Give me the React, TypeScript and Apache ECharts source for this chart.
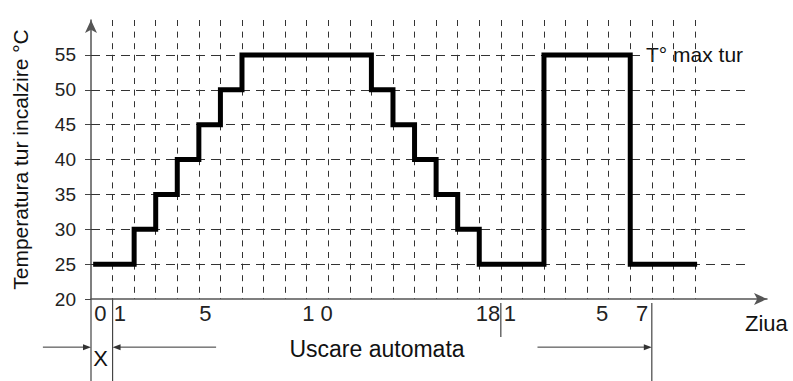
import React, { useEffect, useRef } from "react";
import * as echarts from "echarts";

// ---- data ----
const yTicks = [20, 25, 30, 35, 40, 45, 50, 55];
// step breakpoints (x in grid columns / days) and the temperature held from that point on
const stepDays = [0.1, 2, 3, 4, 5, 6, 7, 13, 14, 15, 16, 17, 18, 21, 25, 28.1];
const stepTemps = [25, 30, 35, 40, 45, 50, 55, 50, 45, 40, 35, 30, 25, 55, 25, 25];
// dashed grid
const gridCols = [1, 2, 3, 4, 5, 6, 7, 8, 9, 10, 11, 12, 13, 14, 15, 16, 17, 18, 19, 20, 21, 22, 23, 24, 25, 26, 27, 28];
const gridRows = [25, 30, 35, 40, 45, 50, 55];
const gridRowEnds = [30.4, 30.4, 30.4, 30.4, 30.4, 30.4, 25.6];
// day labels under the axis
const dayLabels = ["0", "1", "5", "1 0", "18", "1", "5", "7"];
const dayLabelPos = [0.44, 1.34, 5.3, 10.5, 18.4, 19.42, 23.7, 25.55];

const FONT = "'Liberation Sans', Arial, sans-serif";

export default function App() {
  const ref = useRef<HTMLDivElement>(null);
  useEffect(() => {
    if (!ref.current) return;
    const chart = echarts.init(ref.current, undefined, { renderer: "svg" });
    const option: any = {
      animation: false,
      backgroundColor: "#fff",
      grid: { left: 91, right: 26, top: 20, bottom: 82, containLabel: false },
      xAxis: {
        type: "value",
        min: 0,
        max: 31.34,
        axisLine: {
          show: true,
          onZero: false,
          symbol: ["none", "arrow"],
          symbolSize: [9, 13],
          lineStyle: { color: "#555", width: 1.5 },
        },
        axisTick: { show: false },
        axisLabel: { show: false },
        splitLine: { show: false },
      },
      yAxis: {
        type: "value",
        min: 20,
        max: 60,
        interval: 5,
        axisLine: {
          show: true,
          onZero: false,
          symbol: ["none", "arrow"],
          symbolSize: [9, 13],
          lineStyle: { color: "#555", width: 1.5 },
        },
        axisTick: { show: true, length: 6, customValues: yTicks, lineStyle: { color: "#444" } },
        axisLabel: {
          customValues: yTicks,
          fontSize: 19,
          color: "#222",
          margin: 15,
          fontFamily: FONT,
        },
        splitLine: { show: false },
        name: "Temperatura tur incalzire °C",
        nameLocation: "middle",
        nameRotate: 90,
        nameGap: 60,
        nameTextStyle: { fontSize: 21, color: "#111", fontFamily: FONT },
      },
      series: [
        {
          type: "lines",
          coordinateSystem: "cartesian2d",
          silent: true,
          z: 1,
          lineStyle: { color: "#333", width: 1, type: [6, 5.6], opacity: 1 },
          data: gridCols.map((c) => ({ coords: [[c, 60], [c, 20]] })),
        },
        {
          type: "lines",
          coordinateSystem: "cartesian2d",
          silent: true,
          z: 1,
          lineStyle: { color: "#333", width: 1, type: [9, 6], opacity: 1 },
          data: gridRows.map((r, i) => ({ coords: [[0, r], [gridRowEnds[i], r]] })),
        },
        {
          type: "line",
          step: "end",
          symbol: "none",
          z: 5,
          lineStyle: { color: "#000", width: 5, cap: "butt", join: "miter" },
          data: stepDays.map((d, i) => [d, stepTemps[i]]),
        },
      ],
    };
    chart.setOption(option);

    const px = (x: number, y: number) => chart.convertToPixel({ gridIndex: 0 }, [x, y]) as number[];
    const g: any[] = [];
    const lineCol = "#333";
    // vertical lines below the axis
    const below = [
      [0, 20, 8],
      [1, 20, 8],
      [19, 19.43, 14.55],
      [26, 19.43, 8],
    ];
    below.forEach(([x, y1, y2]) => {
      const a = px(x, y1);
      const b = px(x, y2);
      g.push({ type: "line", shape: { x1: a[0], y1: a[1], x2: b[0], y2: b[1] }, style: { stroke: "#444", lineWidth: 1.2 } });
    });
    // arrows
    const arrows = [
      [-2.23, 0, 13.1],
      [5.8, 1, 13.1],
      [20.7, 26, 13.1],
    ];
    arrows.forEach(([from, to, y]) => {
      const a = px(from, y);
      const b = px(to, y);
      const dir = b[0] > a[0] ? 1 : -1;
      g.push({ type: "line", shape: { x1: a[0], y1: a[1], x2: b[0] - dir * 6, y2: b[1] }, style: { stroke: lineCol, lineWidth: 1 } });
      g.push({
        type: "polygon",
        shape: { points: [[b[0], b[1]], [b[0] - dir * 8, b[1] - 3], [b[0] - dir * 8, b[1] + 3]] },
        style: { fill: lineCol },
      });
    });
    // day labels
    dayLabels.forEach((t, i) => {
      const p = px(dayLabelPos[i], 17.85);
      g.push({ type: "text", x: p[0], y: p[1], style: { text: t, fontSize: 22, fontFamily: FONT, fill: "#222", align: "center", verticalAlign: "middle" } });
    });
    const texts = [
      { t: "X", x: 0.44, y: 11.54, align: "center", size: 22 },
      { t: "Uscare automata", x: 13.26, y: 12.83, align: "center", size: 23 },
      { t: "Ziua", x: 30.32, y: 16.42, align: "left", size: 22 },
      { t: "T° max tur", x: 25.73, y: 55, align: "left", size: 21 },
    ];
    texts.forEach((o) => {
      const p = px(o.x, o.y);
      g.push({ type: "text", x: p[0], y: p[1], style: { text: o.t, fontSize: o.size, fontFamily: FONT, fill: "#111", align: o.align, verticalAlign: "middle" } });
    });
    chart.setOption({ graphic: g });

    return () => chart.dispose();
  }, []);
  return <div ref={ref} style={{ position: "fixed", left: 0, top: 0, width: 793, height: 381 }} />;
}
